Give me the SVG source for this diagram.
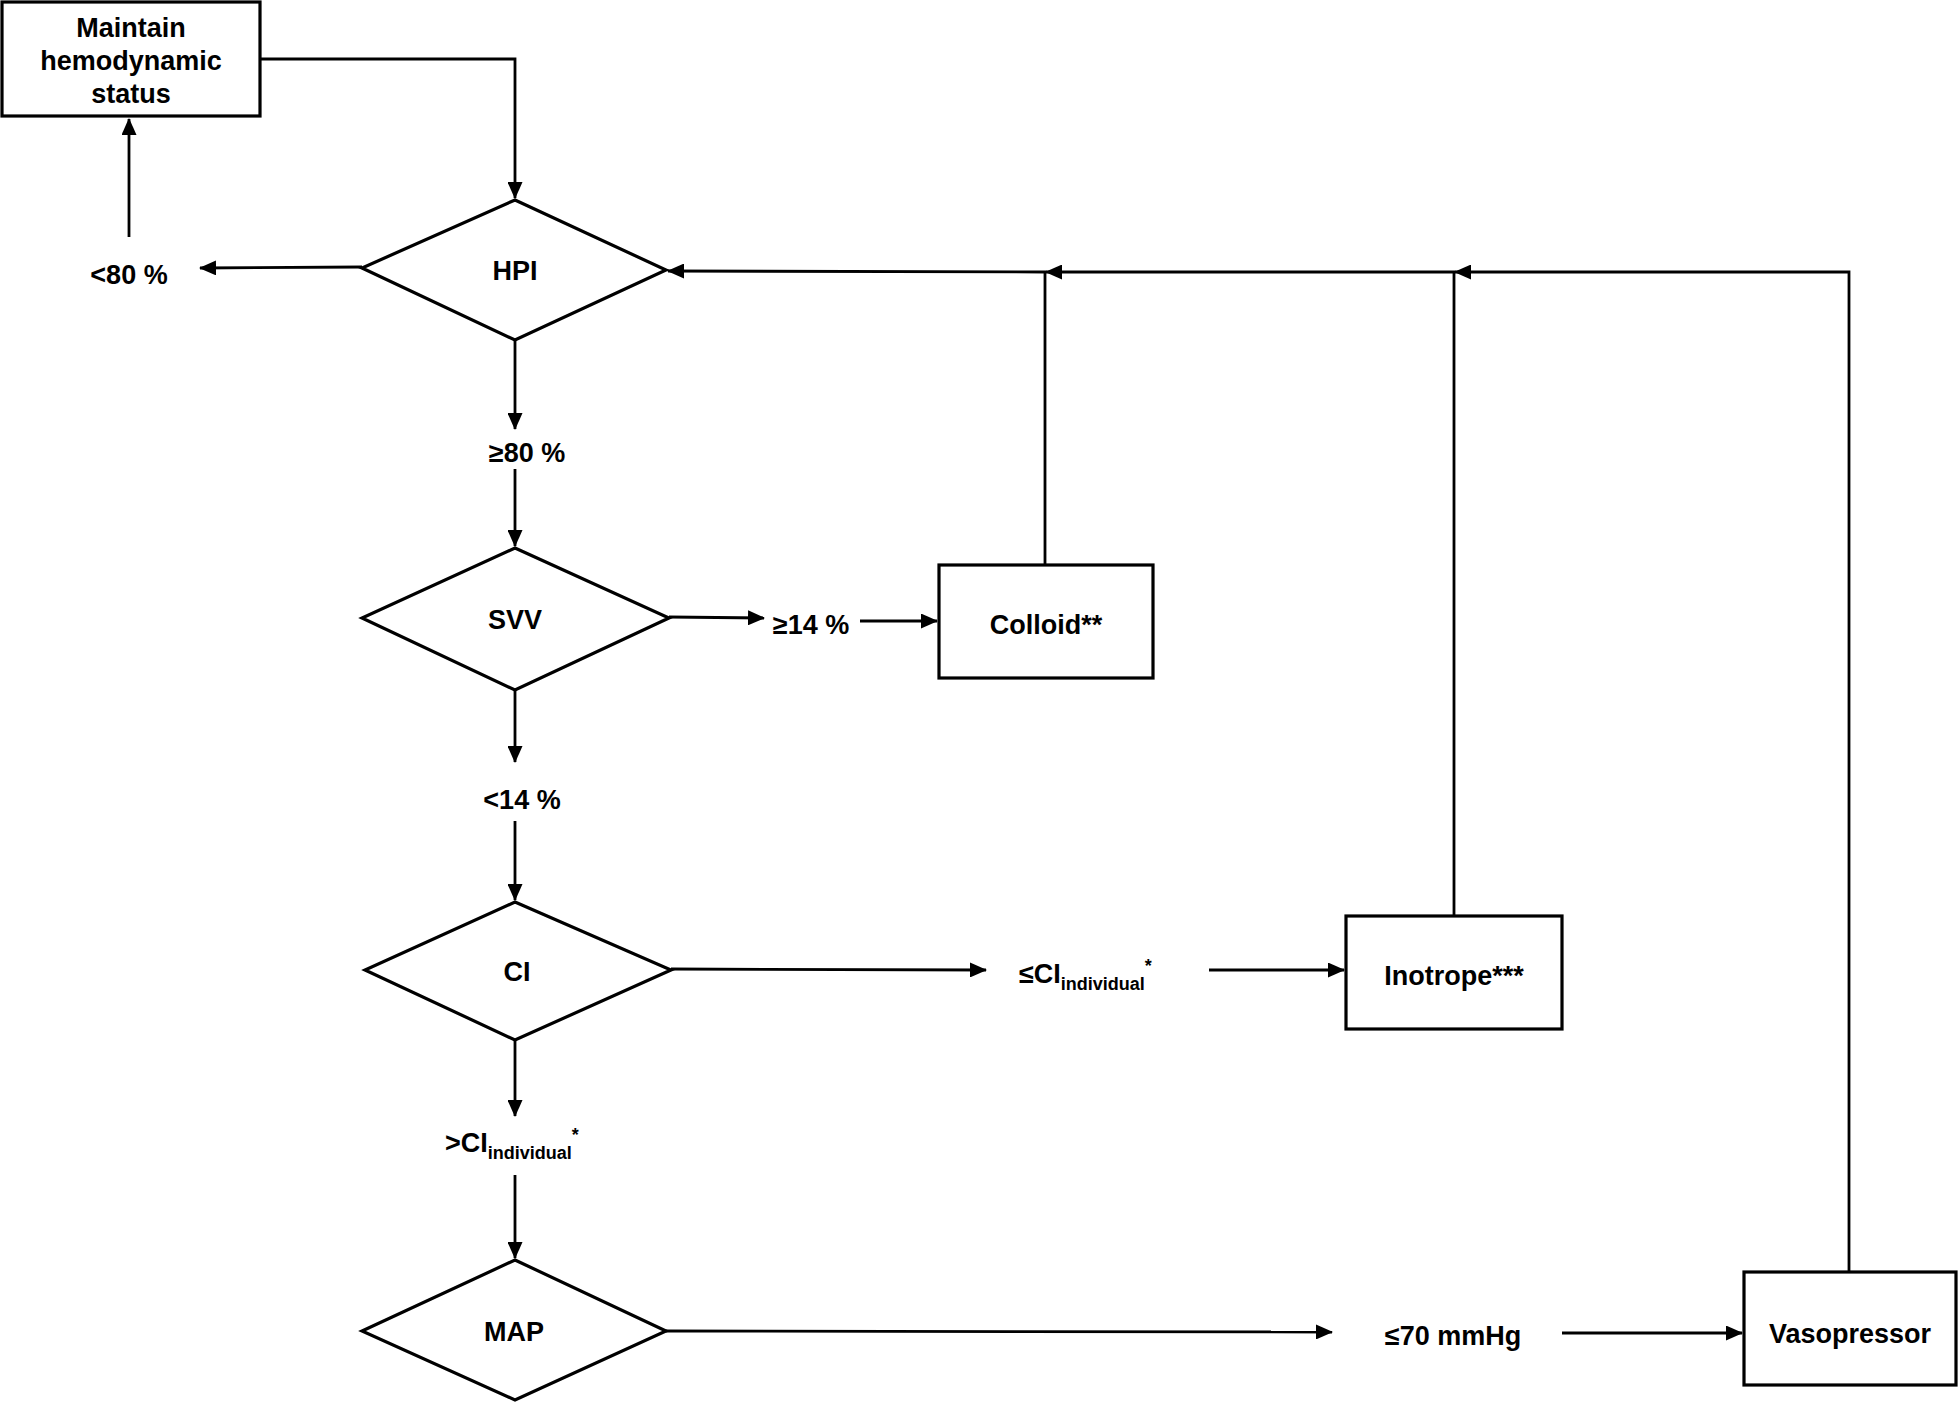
<svg xmlns="http://www.w3.org/2000/svg" width="1960" height="1408" viewBox="0 0 1960 1408">
<style>
.shape{fill:#fff;stroke:#000;stroke-width:3.2}
.ln{fill:none;stroke:#000;stroke-width:2.8}
.t{font-family:"Liberation Sans",Arial,sans-serif;font-weight:bold;font-size:27px;fill:#000;text-anchor:middle}
.ts{font-family:"Liberation Sans",Arial,sans-serif;font-weight:bold;font-size:27px;fill:#000;text-anchor:start}
.sub{font-size:18px}
</style>
<defs>
<marker id="ah" markerUnits="userSpaceOnUse" markerWidth="17" markerHeight="15" refX="16" refY="7.5" orient="auto">
<path d="M0,0 L17,7.5 L0,15 Z" fill="#000"/>
</marker>
</defs>
<rect width="1960" height="1408" fill="#fff"/>
<g id="connectors">
<polyline class="ln" points="260,59 515,59 515,198" marker-end="url(#ah)"/>
<line class="ln" x1="362" y1="267" x2="200" y2="268" marker-end="url(#ah)"/>
<line class="ln" x1="129" y1="237" x2="129" y2="119" marker-end="url(#ah)"/>
<line class="ln" x1="515" y1="340" x2="515" y2="429" marker-end="url(#ah)"/>
<line class="ln" x1="515" y1="469" x2="515" y2="546" marker-end="url(#ah)"/>
<line class="ln" x1="669" y1="617" x2="764" y2="618" marker-end="url(#ah)"/>
<line class="ln" x1="860" y1="621" x2="937" y2="621" stroke-width="3.8" marker-end="url(#ah)"/>
<polyline class="ln" points="1045,565 1045,272 668,271" marker-end="url(#ah)"/>
<polyline class="ln" points="1454,916 1454,272 1046,272" marker-end="url(#ah)"/>
<polyline class="ln" points="1849,1272 1849,272 1455,272" marker-end="url(#ah)"/>
<line class="ln" x1="515" y1="690" x2="515" y2="762" marker-end="url(#ah)"/>
<line class="ln" x1="515" y1="821" x2="515" y2="900" marker-end="url(#ah)"/>
<line class="ln" x1="671" y1="969" x2="986" y2="970" marker-end="url(#ah)"/>
<line class="ln" x1="1209" y1="970" x2="1344" y2="970" marker-end="url(#ah)"/>
<line class="ln" x1="515" y1="1040" x2="515" y2="1116" marker-end="url(#ah)"/>
<line class="ln" x1="515" y1="1175" x2="515" y2="1258" marker-end="url(#ah)"/>
<line class="ln" x1="666" y1="1331" x2="1332" y2="1332" marker-end="url(#ah)"/>
<line class="ln" x1="1562" y1="1333" x2="1742" y2="1333" marker-end="url(#ah)"/>
</g>
<g id="maintain">
<rect class="shape" x="2" y="2" width="258" height="114"/>
<text class="t" x="131" y="37">Maintain</text>
<text class="t" x="131" y="70">hemodynamic</text>
<text class="t" x="131" y="103">status</text>
</g>
<g id="lt80"><text class="t" x="129" y="284">&lt;80 %</text></g>
<g id="hpi">
<polygon class="shape" points="515,200 666,270 515,340 362,268"/>
<text class="t" x="515" y="280">HPI</text>
</g>
<g id="ge80"><text class="t" x="527" y="462">≥80 %</text></g>
<g id="svv">
<polygon class="shape" points="515,548 669,618 515,690 362,618"/>
<text class="t" x="515" y="629">SVV</text>
</g>
<g id="ge14"><text class="t" x="811" y="634">≥14 %</text></g>
<g id="colloid">
<rect class="shape" x="939" y="565" width="214" height="113"/>
<text class="t" x="1046" y="634">Colloid**</text>
</g>
<g id="lt14"><text class="t" x="522" y="809">&lt;14 %</text></g>
<g id="ci">
<polygon class="shape" points="515,902 671,970 515,1040 365,970"/>
<text class="t" x="517" y="981">CI</text>
</g>
<g id="leci"><text class="ts" x="1019" y="983">≤CI<tspan class="sub" dy="7">individual</tspan><tspan class="sub" dy="-18">*</tspan></text></g>
<g id="inotrope">
<rect class="shape" x="1346" y="916" width="216" height="113"/>
<text class="t" x="1454" y="985">Inotrope***</text>
</g>
<g id="gtci"><text class="ts" x="445" y="1152">&gt;CI<tspan class="sub" dy="7">individual</tspan><tspan class="sub" dy="-18">*</tspan></text></g>
<g id="map">
<polygon class="shape" points="515,1260 666,1331 515,1400 362,1331"/>
<text class="t" x="514" y="1341">MAP</text>
</g>
<g id="le70"><text class="t" x="1453" y="1345">≤70 mmHg</text></g>
<g id="vasopressor">
<rect class="shape" x="1744" y="1272" width="212" height="113"/>
<text class="t" x="1850" y="1343">Vasopressor</text>
</g>
</svg>
